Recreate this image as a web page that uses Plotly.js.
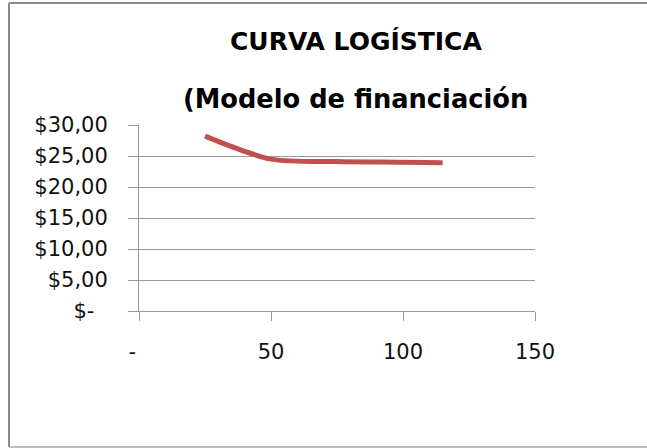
<!DOCTYPE html>
<html>
<head>
<meta charset="utf-8">
<script src="https://cdn.plot.ly/plotly-3.0.1.min.js"></script>
<style>
html,body{margin:0;padding:0;background:#fff;}
#chart{width:647px;height:448px;}
</style>
</head>
<body>
<div id="chart"></div>
<script>
// Data
var xValues = [25, 50, 75, 100, 115];
var yValues = [28.2, 24.5, 24.1, 24.0, 23.9];
var yTickVals = [0, 5, 10, 15, 20, 25, 30];
var yTickText = ["$-\u00A0\u00A0", "$5,00", "$10,00", "$15,00", "$20,00", "$25,00", "$30,00"];
var xTickVals = [0, 50, 100, 150];
var xTickText = ["-\u00A0\u00A0", "50", "100", "150"];
var titleLine1 = "CURVA LOGÍSTICA";
var titleLine2 = "(Modelo de financiación";

var W = 647, H = 448;
var L = 139, R = 535, T = 125, B = 311;
function px(x){ return (x - L) / (R - L); }
function py(y){ return (B - y) / (B - T); }

var trace = {
  x: xValues,
  y: yValues,
  type: 'scatter',
  mode: 'lines',
  line: {color: '#C0504D', width: 5, shape: 'spline', smoothing: 0.8},
  hoverinfo: 'skip',
  showlegend: false
};

var font = "'DejaVu Sans', sans-serif";

var layout = {
  width: W, height: H,
  margin: {l: L, r: W - R, t: T, b: H - B, pad: 0},
  paper_bgcolor: '#ffffff',
  plot_bgcolor: '#ffffff',
  showlegend: false,
  font: {family: font, color: '#000000', size: 21},
  xaxis: {
    range: [0, 150],
    tickvals: xTickVals,
    ticktext: xTickText,
    ticks: 'outside', ticklen: 9, tickcolor: '#9a9a9a', tickwidth: 1,
    showline: true, linecolor: '#9a9a9a', linewidth: 1,
    showgrid: false, zeroline: false,
    tickfont: {family: font, size: 21, color: '#111'},
    ticklabelstandoff: 13,
    fixedrange: true
  },
  yaxis: {
    range: [0, 30],
    tickvals: yTickVals,
    ticktext: yTickText,
    ticks: 'outside', ticklen: 10, tickcolor: '#9a9a9a', tickwidth: 1,
    showline: true, linecolor: '#9a9a9a', linewidth: 1,
    showgrid: true, gridcolor: '#9a9a9a', gridwidth: 1,
    zeroline: false,
    tickfont: {family: font, size: 21, color: '#111'},
    ticklabelstandoff: 16,
    fixedrange: true
  },
  shapes: [
    {type: 'line', xref: 'paper', yref: 'paper', x0: px(9), x1: px(9), y0: py(3), y1: py(447), line: {color: '#8a8a8a', width: 2}},
    {type: 'line', xref: 'paper', yref: 'paper', x0: px(9), x1: px(700), y0: py(3), y1: py(3), line: {color: '#8a8a8a', width: 2}},
    {type: 'line', xref: 'paper', yref: 'paper', x0: px(9), x1: px(700), y0: py(447), y1: py(447), line: {color: '#bdbdbd', width: 2}}
  ],
  annotations: [
    {text: '<b>' + titleLine1 + '</b>', xref: 'paper', yref: 'paper', x: px(356), y: py(42), xanchor: 'center', yanchor: 'middle', showarrow: false, font: {family: font, size: 25, color: '#000'}},
    {text: '<b>' + titleLine2 + '</b>', xref: 'paper', yref: 'paper', x: px(355), y: py(99), xanchor: 'center', yanchor: 'middle', showarrow: false, font: {family: font, size: 25.7, color: '#000'}}
  ]
};

Plotly.newPlot('chart', [trace], layout, {displayModeBar: false, staticPlot: true});
</script>
</body>
</html>
